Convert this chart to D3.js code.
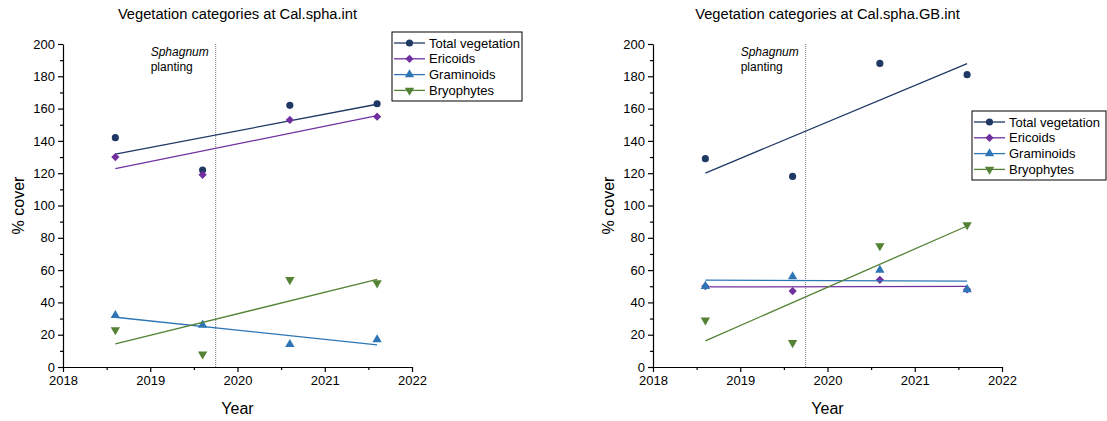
<!DOCTYPE html>
<html>
<head>
<meta charset="utf-8">
<script src="https://cdn.jsdelivr.net/npm/d3@7"></script>
<style>
  body { margin: 0; background: #fff; }
  text { font-family: "Liberation Sans", Arial, sans-serif; fill: #000; }
</style>
</head>
<body>
<svg id="chart" width="1107" height="421"></svg>
<script>
// sampling years (mid-year surveys)
var years = [2018.6, 2019.6, 2020.6, 2021.6];
var seriesNames = ["Total vegetation", "Ericoids", "Graminoids", "Bryophytes"];
var seriesColors = ["#1f3864", "#7030a0", "#2e75b6", "#548235"];
var seriesShapes = ["circle", "diamond", "triangle", "triangleDown"];

// Cal.spha.int
var intTotal = [142, 122, 162, 163];
var intEricoids = [130, 119, 153, 155];
var intGraminoids = [32, 26, 14, 17];
var intBryophytes = [23, 8, 54, 52];

// Cal.spha.GB.int
var gbTotal = [129, 118, 188, 181];
var gbEricoids = [50, 47, 54, 48];
var gbGraminoids = [50, 56, 60, 48];
var gbBryophytes = [29, 15, 75, 88];

var xTicks = [2018, 2019, 2020, 2021, 2022];
var yTicks = [0, 20, 40, 60, 80, 100, 120, 140, 160, 180, 200];
var plantingYear = 2019.75;

var svg = d3.select("#chart");

function symbolFor(shape) {
  if (shape == "circle") return d3.symbol().type(d3.symbolCircle).size(40);
  if (shape == "diamond") return d3.symbol().type(d3.symbolSquare).size(34);
  return d3.symbol().type(d3.symbolTriangle).size(38);
}
function rotFor(shape) {
  if (shape == "diamond") return " rotate(45)";
  if (shape == "triangleDown") return " rotate(180)";
  return "";
}

// least squares fit
function fit(xs, ys) {
  var mx = d3.mean(xs), my = d3.mean(ys);
  var num = d3.sum(xs, function(x, i) { return (x - mx) * (ys[i] - my); });
  var den = d3.sum(xs, function(x) { return (x - mx) * (x - mx); });
  var b = num / den;
  return function(x) { return my + b * (x - mx); };
}

function drawPanel(left, title, allSeries, legendX, legendY, legendW) {
  var g = svg.append("g");
  var x = d3.scaleLinear().domain([2018, 2022]).range([left, left + 349]);
  var y = d3.scaleLinear().domain([0, 200]).range([367, 44]);

  // title
  g.append("text")
    .attr("x", left + 174.5)
    .attr("y", 19)
    .attr("text-anchor", "middle")
    .style("font-size", "14.7px")
    .text(title);

  // minor ticks
  g.append("g")
    .attr("transform", "translate(" + left + ",0)")
    .call(d3.axisLeft(y).tickValues(d3.range(10, 200, 20)).tickSize(3).tickFormat(""))
    .call(function(a) { a.select(".domain").remove(); });
  g.append("g")
    .attr("transform", "translate(0,367)")
    .call(d3.axisBottom(x).tickValues([2018.5, 2019.5, 2020.5, 2021.5]).tickSize(3).tickFormat(""))
    .call(function(a) { a.select(".domain").remove(); });

  // major axes
  var yAxis = g.append("g")
    .attr("transform", "translate(" + left + ",0)")
    .call(d3.axisLeft(y).tickValues(yTicks).tickSize(5).tickSizeOuter(0));
  yAxis.selectAll("text").style("font-size", "13px").attr("x", -8);

  var xAxis = g.append("g")
    .attr("transform", "translate(0,367)")
    .call(d3.axisBottom(x).tickValues(xTicks).tickSize(5).tickSizeOuter(0).tickFormat(d3.format("d")));
  xAxis.selectAll("text").style("font-size", "13px").attr("y", 9);

  g.selectAll(".domain, .tick line").attr("stroke", "#000").attr("stroke-width", 1.2);

  // axis titles
  g.append("text")
    .attr("transform", "translate(" + (left - 39) + ",205.5) rotate(-90)")
    .attr("text-anchor", "middle")
    .style("font-size", "16px")
    .text("% cover");
  g.append("text")
    .attr("x", left + 174.5)
    .attr("y", 414)
    .attr("text-anchor", "middle")
    .style("font-size", "16px")
    .text("Year");

  // planting marker
  g.append("line")
    .attr("x1", x(plantingYear)).attr("x2", x(plantingYear))
    .attr("y1", y(200)).attr("y2", y(0))
    .attr("stroke", "#777")
    .attr("stroke-width", 1)
    .attr("stroke-dasharray", "1,1");
  g.append("text")
    .attr("x", x(plantingYear) - 65)
    .attr("y", 56)
    .style("font-size", "12px")
    .style("font-style", "italic")
    .text("Sphagnum");
  g.append("text")
    .attr("x", x(plantingYear) - 65)
    .attr("y", 71)
    .style("font-size", "12px")
    .text("planting");

  // series: fitted line + points
  allSeries.forEach(function(vals, s) {
    var f = fit(years, vals);
    var x0 = years[0], x1 = years[years.length - 1];
    g.append("line")
      .attr("x1", x(x0)).attr("y1", y(f(x0)))
      .attr("x2", x(x1)).attr("y2", y(f(x1)))
      .attr("stroke", seriesColors[s])
      .attr("stroke-width", 1.3);
    g.selectAll(".pt" + s)
      .data(vals)
      .enter()
      .append("path")
      .attr("d", symbolFor(seriesShapes[s]))
      .attr("transform", function(d, i) {
        return "translate(" + x(years[i]) + "," + y(d) + ")" + rotFor(seriesShapes[s]);
      })
      .attr("fill", seriesColors[s]);
  });

  // legend
  var lg = g.append("g").attr("transform", "translate(" + legendX + "," + legendY + ")");
  lg.append("rect")
    .attr("x", 0).attr("y", 0)
    .attr("width", legendW).attr("height", 69)
    .attr("fill", "#fff")
    .attr("stroke", "#000")
    .attr("stroke-width", 1);
  seriesNames.forEach(function(name, s) {
    var ry = 11 + s * 15.8;
    lg.append("line")
      .attr("x1", 2).attr("x2", 33)
      .attr("y1", ry).attr("y2", ry)
      .attr("stroke", seriesColors[s])
      .attr("stroke-width", 1.3);
    lg.append("path")
      .attr("d", symbolFor(seriesShapes[s]))
      .attr("transform", "translate(17.5," + ry + ")" + rotFor(seriesShapes[s]))
      .attr("fill", seriesColors[s]);
    lg.append("text")
      .attr("x", 37)
      .attr("y", ry + 4.5)
      .style("font-size", "13px")
      .text(name);
  });
}

drawPanel(63, "Vegetation categories at Cal.spha.int",
  [intTotal, intEricoids, intGraminoids, intBryophytes], 392, 32, 130);
drawPanel(653, "Vegetation categories at Cal.spha.GB.int",
  [gbTotal, gbEricoids, gbGraminoids, gbBryophytes], 972, 111, 134);
</script>
</body>
</html>
